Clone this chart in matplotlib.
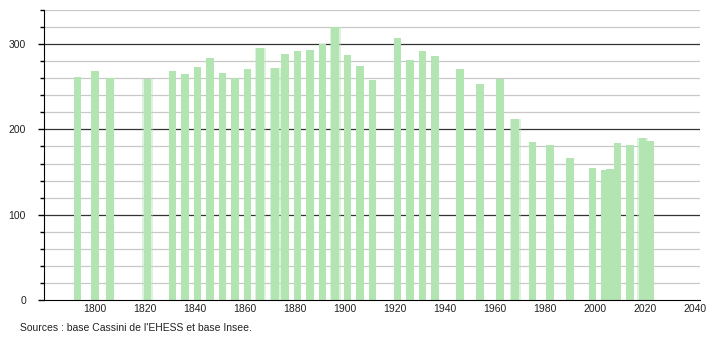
import matplotlib
matplotlib.use("Agg")
import matplotlib.pyplot as plt
from matplotlib.ticker import MultipleLocator

plt.rcParams['font.family'] = ['Liberation Sans', 'DejaVu Sans']

years = [1793, 1800, 1806, 1821, 1831, 1836, 1841, 1846, 1851, 1856,
         1861, 1866, 1872, 1876, 1881, 1886, 1891, 1896, 1901, 1906,
         1911, 1921, 1926, 1931, 1936, 1946, 1954, 1962, 1968, 1975,
         1982, 1990, 1999, 2004, 2006, 2009, 2014, 2019, 2022]
population = [261, 269, 260, 259, 269, 265, 273, 284, 266, 260,
              271, 296, 272, 288, 292, 293, 300, 320, 287, 274,
              258, 307, 281, 292, 286, 271, 253, 259, 212, 185,
              182, 166, 155, 152, 154, 184, 182, 190, 187]
x_ticks = [1800, 1820, 1840, 1860, 1880, 1900, 1920, 1940, 1960, 1980, 2000, 2020, 2040]
y_ticks = [0, 100, 200, 300]
source_text = "Sources : base Cassini de l'EHESS et base Insee."
soft_years = [1821, 1866, 1872, 1896, 1968, 2019]

fig = plt.figure(figsize=(7.1, 3.4), dpi=100)
ax = fig.add_axes([44/710, 1-300/340, (700-44)/710, (300-10)/340])

ax.set_xlim(1779.6, 2042)
ax.set_ylim(0, 340)

# gridlines
for v in range(20, 341, 20):
    if v % 100 == 0:
        ax.axhline(v, color='#333333', lw=0.9, zorder=1)
    else:
        ax.axhline(v, color='#c8c8c8', lw=0.9, zorder=1)

# soft halo for the blurred-looking bars
soft_vals = [population[years.index(y)] for y in soft_years]
ax.bar(soft_years, soft_vals, width=4.4, color='#b2e5b2', alpha=0.45,
       edgecolor='none', zorder=2)
ax.bar(years, population, width=3.0, color='#b2e5b2', edgecolor='none', zorder=2)

ax.set_xticks(x_ticks)
ax.set_xticklabels([str(t) for t in x_ticks], fontsize=7.5, color='#222222')
ax.set_yticks(y_ticks)
ax.set_yticklabels([str(t) for t in y_ticks], fontsize=7.5, color='#222222')
ax.yaxis.set_minor_locator(MultipleLocator(20))
ax.tick_params(axis='x', length=0, pad=3)
ax.tick_params(axis='y', which='major', length=4, width=1, color='black', pad=9)
ax.tick_params(axis='y', which='minor', length=3, width=1, color='black')

for s in ['top', 'right']:
    ax.spines[s].set_visible(False)
ax.spines['left'].set_color('black')
ax.spines['bottom'].set_color('black')
ax.spines['left'].set_zorder(3)
ax.spines['bottom'].set_zorder(3)

fig.text(20/710, 1-328/340, source_text, fontsize=7.5, color='#222222', va='center', ha='left')

fig.savefig('out.png', dpi=100)
